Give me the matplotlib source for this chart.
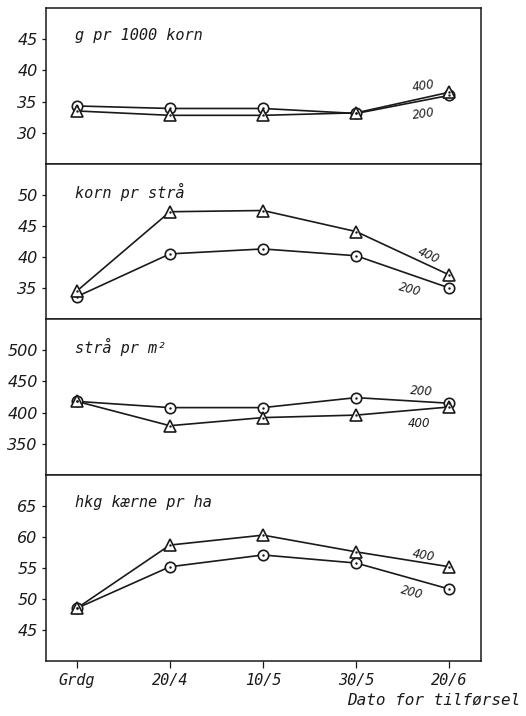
"""Four stacked panels: yield components vs date of nitrogen application."""

import matplotlib.pyplot as plt

dates = ["Grdg", "20/4", "10/5", "30/5", "20/6"]

# g per 1000 kernels
kw_200 = [34.3, 33.9, 33.9, 33.1, 36.0]
kw_400 = [33.5, 32.8, 32.8, 33.2, 36.5]
# kernels per straw
ks_200 = [33.6, 40.5, 41.3, 40.2, 35.0]
ks_400 = [34.5, 47.3, 47.5, 44.1, 37.1]
# straws per m2
sm_200 = [418, 408, 408, 424, 415]
sm_400 = [418, 379, 392, 396, 409]
# hkg grain per ha
hk_200 = [48.5, 55.2, 57.1, 55.8, 51.6]
hk_400 = [48.5, 58.7, 60.3, 57.6, 55.2]

panels = [
    ("g pr 1000 korn", kw_200, kw_400, (25, 50), [30, 35, 40, 45],
     (3.72, 33.0, 8), (3.72, 37.5, 8)),
    ("korn pr strå", ks_200, ks_400, (30, 55), [35, 40, 45, 50],
     (3.58, 34.7, -15), (3.78, 40.3, -25)),
    ("strå pr m²", sm_200, sm_400, (300, 550), [350, 400, 450, 500],
     (3.7, 434, -4), (3.67, 383, 0)),
    ("hkg kærne pr ha", hk_200, hk_400, (40, 70), [45, 50, 55, 60, 65],
     (3.6, 51.0, -15), (3.72, 57.0, -10)),
]

fig = plt.figure(figsize=(5.26, 7.16), dpi=100)
left, width = 46 / 526, 435 / 526
rows = [(8, 164), (164, 319), (319, 475), (475, 661)]
ink = "#1a1a1a"
x = list(range(len(dates)))
sans = dict(style="italic", family="DejaVu Sans", color=ink)
mono = dict(style="italic", family="DejaVu Sans Mono", color=ink)

axes = []
for (title, s200, s400, ylim, yticks, lab200, lab400), (top, bot) in zip(panels, rows):
    ax = fig.add_axes([left, (716 - bot) / 716, width, (bot - top) / 716])
    axes.append(ax)
    for vals, mk, ms in ((s200, "o", 7.5), (s400, "^", 9)):
        ax.plot(x, vals, "-", color=ink, lw=1.2, zorder=2)
        ax.plot(x, vals, mk, ms=ms, mfc="white", mec=ink, mew=1.2, ls="none", zorder=3)
        ax.plot(x, vals, ".", ms=1.5, color=ink, ls="none", zorder=4)
    ax.set_xlim(-0.33, 4.34)
    ax.set_ylim(*ylim)
    ax.set_yticks(yticks)
    ax.set_yticklabels([str(v) for v in yticks], fontsize=11.5, **sans)
    ax.tick_params(axis="y", direction="out", length=3, width=0.9, pad=3, colors=ink)
    for sp in ax.spines.values():
        sp.set_linewidth(1.1)
        sp.set_color(ink)
    ax.annotate(title, xy=(0.067, 1), xycoords="axes fraction",
                xytext=(0, -20), textcoords="offset points",
                fontsize=11, va="center", ha="left", **mono)
    ax.text(lab200[0], lab200[1], "200", rotation=lab200[2], fontsize=8.5,
            ha="center", va="center", **sans)
    ax.text(lab400[0], lab400[1], "400", rotation=lab400[2], fontsize=8.5,
            ha="center", va="center", **sans)
    ax.set_xticks([])

ax = axes[-1]
ax.set_xticks(x)
ax.set_xticklabels(dates, fontsize=11, **mono)
ax.tick_params(axis="x", direction="out", length=5, width=0.9, pad=4, colors=ink)
fig.text(520 / 526, 1 - 700 / 716, "Dato for tilførsel", fontsize=11.5,
         ha="right", va="center", **mono)

fig.savefig("out.png", dpi=100)
